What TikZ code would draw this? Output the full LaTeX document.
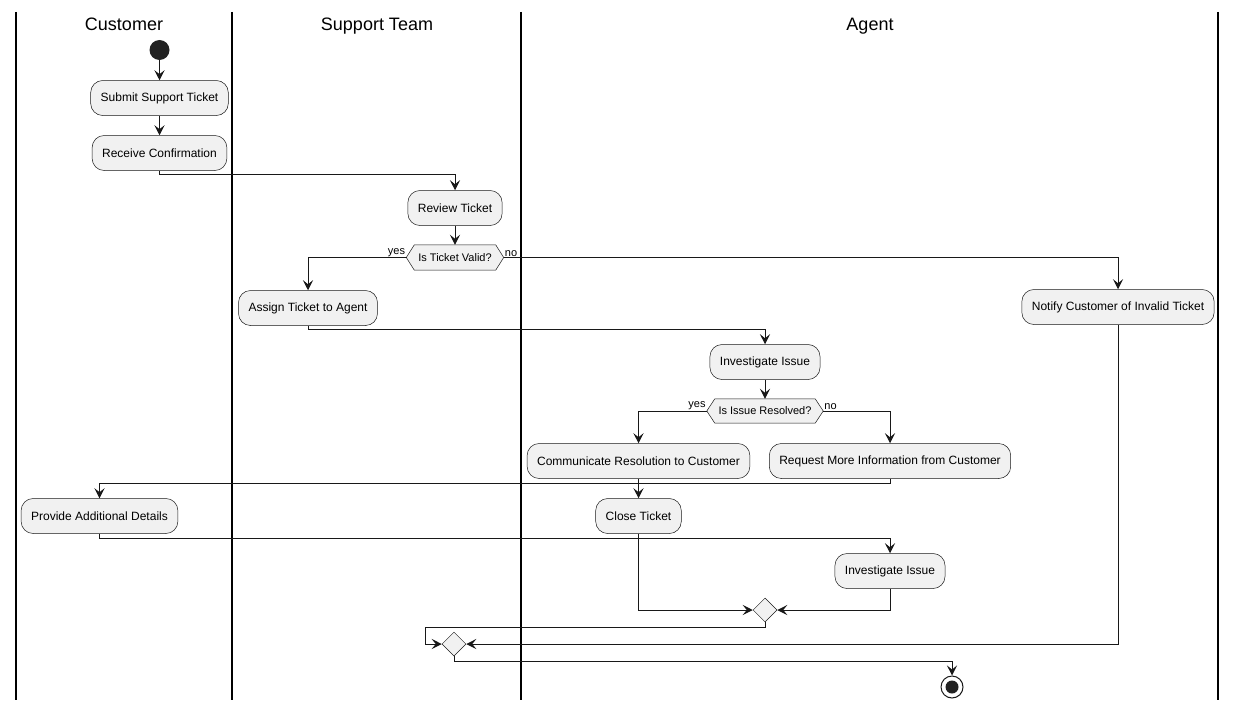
\documentclass[tikz,border=0pt]{standalone}
\usepackage{fontspec}
\setmainfont{Liberation Sans}
\usetikzlibrary{arrows.meta,shapes.geometric,calc}
\definecolor{boxfill}{HTML}{F1F1F1}
\definecolor{ink}{HTML}{181818}
\definecolor{dot}{HTML}{222222}
\pgfdeclarelayer{background}
\pgfsetlayers{background,main}

\begin{document}
\begin{tikzpicture}[x=1pt,y=-1pt,
  action/.style={draw=ink,line width=0.5pt,fill=boxfill,rounded corners=12pt,
    minimum height=35pt,inner xsep=10pt,inner ysep=0pt,font=\fontsize{12}{14}\selectfont},
  dtext/.style={inner sep=0pt,font=\fontsize{11}{13}\selectfont},
  hexa/.style={draw=ink,line width=0.5pt,fill=boxfill},
  merge/.style={diamond,draw=ink,line width=0.5pt,fill=boxfill,minimum width=24pt,
    minimum height=24pt,inner sep=0pt},
  startdot/.style={circle,fill=dot,minimum size=20pt,inner sep=0pt},
  enddot/.style={circle,draw=ink,line width=1pt,fill=white,minimum size=22pt,inner sep=0pt},
  endcore/.style={circle,fill=dot,minimum size=13pt,inner sep=0pt},
  head/.style={anchor=base,font=\fontsize{18}{21}\selectfont},
  lbl/.style={inner sep=1pt,font=\fontsize{11}{13}\selectfont},
  lane/.style={line width=1.5pt,black},
  flow/.style={draw=ink,line width=1pt,-{Stealth[length=10pt,width=10pt,inset=4pt]}}
]
\useasboundingbox (0,0) rectangle (1236,709);

% swimlane separators
\draw[lane] (16,12) -- (16,700);
\draw[lane] (232,12) -- (232,700);
\draw[lane] (521,12) -- (521,700);
\draw[lane] (1218,12) -- (1218,700);

% lane titles
\node[head] (hcust) at (124,31) {Customer};
\node[head] (hsupp) at (377,31) {Support Team};
\node[head] (hagent) at (870,31) {Agent};

% activities
\node[startdot] (start) at (159.5,50) {};
\node[action] (submit) at (159.5,98) {Submit Support Ticket};
\node[action] (receive) at (159.5,153) {Receive Confirmation};
\node[action] (review) at (455,208) {Review Ticket};
\node[action] (assign) at (308,308) {Assign Ticket to Agent};
\node[action] (notify) at (1118,307) {Notify Customer of Invalid Ticket};
\node[action] (inv1) at (765,362) {Investigate Issue};
\node[action] (comm) at (638.5,461) {Communicate Resolution to Customer};
\node[action] (req) at (890,461) {Request More Information from Customer};
\node[action] (provide) at (99.5,516) {Provide Additional Details};
\node[action] (close) at (638.5,516) {Close Ticket};
\node[action] (inv2) at (890,571) {Investigate Issue};

% decisions
\node[dtext,minimum width=81pt,minimum height=25pt] (d1) at (455,257.5) {Is Ticket Valid?};
\coordinate (d1w) at ([xshift=-8pt]d1.west);
\coordinate (d1e) at ([xshift=8pt]d1.east);
\node[dtext,minimum width=100pt,minimum height=24pt] (d2) at (765,411) {Is Issue Resolved?};
\coordinate (d2w) at ([xshift=-8pt]d2.west);
\coordinate (d2e) at ([xshift=8pt]d2.east);
\begin{pgfonlayer}{background}
\draw[hexa] (d1w) -- (d1.north west) -- (d1.north east) -- (d1e) -- (d1.south east) -- (d1.south west) -- cycle;
\draw[hexa] (d2w) -- (d2.north west) -- (d2.north east) -- (d2e) -- (d2.south east) -- (d2.south west) -- cycle;
\end{pgfonlayer}
\node[lbl,anchor=south east] (yes1) at (d1w) {yes};
\node[lbl,anchor=south west] (no1) at (d1e) {no};
\node[lbl,anchor=south east] (yes2) at (d2w) {yes};
\node[lbl,anchor=south west] (no2) at (d2e) {no};

% merges and end
\node[merge] (m1) at (765,610) {};
\node[merge] (m2) at (454,644) {};
\node[enddot] (end) at (952,687) {};
\node[endcore] (endc) at (end) {};
\coordinate (loop) at (425,644);

% connectors
\draw[flow] (start.south) -- (submit.north);
\draw[flow] (submit.south) -- (receive.north);
\draw[flow] (receive.south) -- ++(0,4) -| (review.north);
\draw[flow] (review.south) -- (d1.north);
\draw[flow] (d1w) -| (assign.north);
\draw[flow] (d1e) -| (notify.north);
\draw[flow] (assign.south) -- ++(0,4) -| (inv1.north);
\draw[flow] (inv1.south) -- (d2.north);
\draw[flow] (d2w) -| (comm.north);
\draw[flow] (d2e) -| (req.north);
\draw[flow] (comm.south) -- (close.north);
\draw[flow] (req.south) -- ++(0,5) -| (provide.north);
\draw[flow] (provide.south) -- ++(0,5) -| (inv2.north);
\draw[flow] (close.south) |- (m1.west);
\draw[flow] (inv2.south) |- (m1.east);
\draw[flow] (m1.south) -- ++(0,5) -| (loop) -- (m2.west);
\draw[flow] (notify.south) |- (m2.east);
\draw[flow] (m2.south) -- ++(0,5) -| (end.north);
\end{tikzpicture}
\end{document}
